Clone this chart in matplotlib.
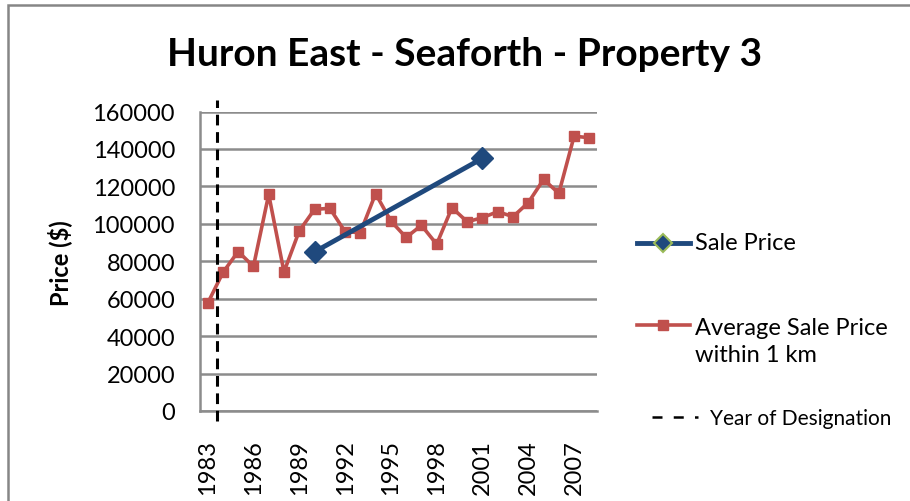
import matplotlib.pyplot as plt
from matplotlib.lines import Line2D
from matplotlib.patches import Rectangle

# data
years = list(range(1983, 2009))
avg_price = [57500, 74000, 85200, 77200, 115700, 74300, 96200, 107700, 108300,
             95800, 95300, 116100, 101500, 92700, 99200, 89100, 108600, 101100,
             103300, 106500, 103800, 111300, 123700, 116300, 146800, 146000]
sale_years = [1990, 2001]
sale_price = [85000, 135000]
designation_year = 1983.6
y_ticks = [0, 20000, 40000, 60000, 80000, 100000, 120000, 140000, 160000]
x_tick_years = list(range(1983, 2008, 3))

blue = '#1F497D'
red = '#C0504D'
grid_col = '#8C8C8C'

plt.rcParams['font.family'] = ['Lato', 'DejaVu Sans']

fig = plt.figure(figsize=(9.1, 5.02), dpi=100)
W, H = 910, 502

# chart area border
fig.patches.append(Rectangle((8 / W, -0.1), 1.2, 1 - 6 / H + 0.1, transform=fig.transFigure,
                             fill=False, edgecolor='#868686', linewidth=1.8))

ax = fig.add_axes([200 / W, 1 - 412 / H, 397 / W, 299.5 / H])

ax.plot(years, avg_price, color=red, linewidth=2.6, marker='s', markersize=7,
        markerfacecolor=red, markeredgecolor=red, zorder=3)
ax.plot(sale_years, sale_price, color=blue, linewidth=3.5, marker='D', markersize=11,
        markerfacecolor=blue, markeredgecolor=blue, zorder=4)
ax.axvline(designation_year, ymin=-0.035, ymax=1.04, color='black', linewidth=2.2,
           linestyle=(0, (3.5, 2.2)), clip_on=False, zorder=5)

ax.set_xlim(1982.5, 2008.5)
ax.set_ylim(0, 160000)
ax.set_yticks(y_ticks)
ax.set_yticklabels([str(v) for v in y_ticks], fontsize=17)
ax.set_xticks(x_tick_years)
ax.set_xticklabels([str(v) for v in x_tick_years], rotation=90, fontsize=17)
ax.tick_params(axis='y', length=0, pad=18)
ax.tick_params(axis='x', length=0, pad=20)
ax.grid(axis='y', color=grid_col, linewidth=1.8)
ax.set_axisbelow(True)
for side in ['top', 'right']:
    ax.spines[side].set_visible(False)
for side in ['left', 'bottom']:
    ax.spines[side].set_color(grid_col)
    ax.spines[side].set_linewidth(1.8)

fig.text(465 / W, 1 - 55 / H, 'Huron East - Seaforth - Property 3', ha='center', va='center',
         fontsize=28, fontweight='bold')
fig.text(60 / W, 1 - 263 / H, 'Price ($)', rotation=90, ha='center', va='center',
         fontsize=17, fontweight='bold')

# legend drawn by hand
def fx(px):
    return px / W

def fy(py):
    return 1 - py / H

fig.lines.append(Line2D([fx(637), fx(690)], [fy(244), fy(244)], transform=fig.transFigure,
                        color=blue, linewidth=3.5))
fig.lines.append(Line2D([fx(663)], [fy(244)], transform=fig.transFigure, marker='D',
                        markersize=9, markerfacecolor=blue, markeredgecolor='#9BBB59',
                        markeredgewidth=1.5))
fig.text(fx(695), fy(244), 'Sale Price', ha='left', va='center', fontsize=17)

fig.lines.append(Line2D([fx(637), fx(690)], [fy(326), fy(326)], transform=fig.transFigure,
                        color=red, linewidth=2.6))
fig.lines.append(Line2D([fx(663)], [fy(326)], transform=fig.transFigure, marker='s',
                        markersize=7, markerfacecolor=red, markeredgecolor=red))
fig.text(fx(695), fy(342), 'Average Sale Price\nwithin 1 km', ha='left', va='center',
         fontsize=17, linespacing=1.3)

fig.lines.append(Line2D([fx(652), fx(698)], [fy(418), fy(418)], transform=fig.transFigure,
                        color='black', linewidth=1.8, linestyle=(0, (4, 4.5))))
fig.text(fx(710), fy(419), 'Year of Designation', ha='left', va='center', fontsize=15)

fig.savefig('out.png', dpi=100)
